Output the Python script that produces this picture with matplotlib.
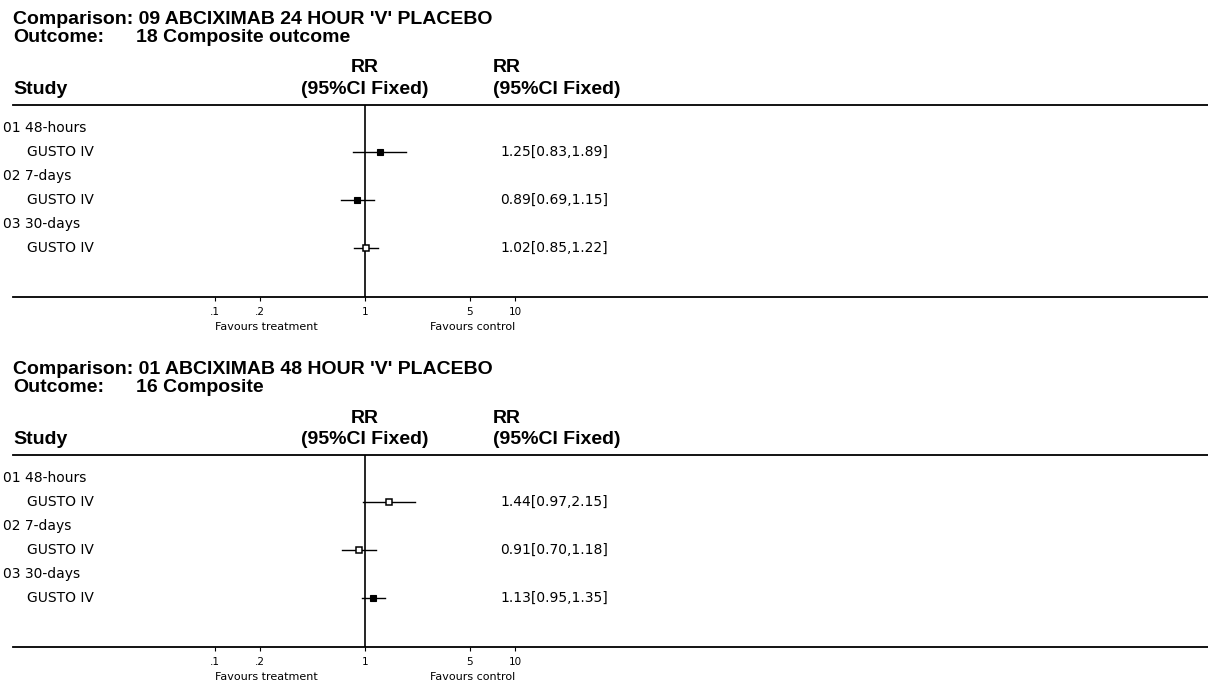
import matplotlib
matplotlib.use("Agg")
import matplotlib.pyplot as plt
from matplotlib.transforms import blended_transform_factory

# ---- data -------------------------------------------------------------
comparisons = ["Comparison: 09 ABCIXIMAB 24 HOUR 'V' PLACEBO",
               "Comparison: 01 ABCIXIMAB 48 HOUR 'V' PLACEBO"]
outcomes = ["18 Composite outcome", "16 Composite"]
subgroups = ["01 48-hours", "02 7-days", "03 30-days"]
study_name = "GUSTO IV"

rr_a = [1.25, 0.89, 1.02]
lo_a = [0.83, 0.69, 0.85]
hi_a = [1.89, 1.15, 1.22]

rr_b = [1.44, 0.91, 1.13]
lo_b = [0.97, 0.70, 0.95]
hi_b = [2.15, 1.18, 1.35]

filled_a = [True, True, False]
filled_b = [False, False, True]

tick_values = [0.1, 0.2, 1, 5, 10]
tick_labels = [".1", ".2", "1", "5", "10"]

# ---- layout (pixels) --------------------------------------------------
W, H, DPI = 1208, 684, 100
X_LEFT, X_RIGHT = 13, 1208
X_NULL, PX_PER_DECADE = 365, 150
PANEL_SHIFT = 350

HEAD_FONT = ["Liberation Sans", "DejaVu Sans"]
BODY_FONT = ["DejaVu Sans"]
HEAD_SIZE = 14
BODY_SIZE = 10

fig = plt.figure(figsize=(W / DPI, H / DPI), dpi=DPI)
fig.patch.set_facecolor("white")


def fy(y):
    return 1 - y / H


def head(x, y, s, **kw):
    kw.setdefault("ha", "left")
    fig.text(x, y, s, va="center", fontsize=HEAD_SIZE, fontweight="bold",
             family=HEAD_FONT, **kw)


def draw_panel(dy, comparison, outcome, rr, lo, hi, filled):
    top, bottom = 105 + dy, 297 + dy
    ax = fig.add_axes([X_LEFT / W, fy(bottom), (X_RIGHT - X_LEFT) / W,
                       (bottom - top) / H])
    ax.set_xscale("log")
    ax.set_xlim(10 ** ((X_LEFT - X_NULL) / PX_PER_DECADE),
                10 ** ((X_RIGHT - X_NULL) / PX_PER_DECADE))
    # rows: subgroup header, study line, ... spaced 24 px, first at 128
    first_row, row_h = 128 + dy, 24
    ax.set_ylim((bottom - first_row) / row_h, (top - first_row) / row_h)
    for side in ("left", "right"):
        ax.spines[side].set_visible(False)
    for side in ("top", "bottom"):
        ax.spines[side].set_linewidth(1.3)
    ax.set_yticks([])
    ax.set_xticks(tick_values)
    ax.set_xticklabels(tick_labels)
    ax.minorticks_off()
    ax.tick_params(axis="x", direction="out", length=3, width=0.8, pad=4,
                   labelsize=7.5)
    for lab in ax.get_xticklabels():
        lab.set_family(BODY_FONT)

    ax.axvline(1, color="black", lw=1.2, zorder=1)

    tx_fig = blended_transform_factory(fig.transFigure, ax.transData)
    for i, (label, r, l, h, f) in enumerate(zip(subgroups, rr, lo, hi, filled)):
        yg, ys = 2 * i, 2 * i + 1
        ax.text(3 / W, yg, label, transform=tx_fig, va="center", ha="left",
                fontsize=BODY_SIZE, family=BODY_FONT)
        ax.text(27 / W, ys, study_name, transform=tx_fig, va="center",
                ha="left", fontsize=BODY_SIZE, family=BODY_FONT)
        ax.plot([l, h], [ys, ys], color="black", lw=1.0, zorder=2)
        if f:
            ax.plot([r], [ys], marker="s", ms=4.8, mfc="black", mec="black",
                    mew=0.8, zorder=3)
        else:
            ax.plot([r], [ys], marker="s", ms=4.2, mfc="white", mec="black",
                    mew=1.1, zorder=3)
        ax.text(500 / W, ys, f"{r:.2f}[{l:.2f},{h:.2f}]", transform=tx_fig,
                va="center", ha="left", fontsize=BODY_SIZE, family=BODY_FONT)

    # headings
    head(13 / W, fy(19 + dy), comparison)
    head(13 / W, fy(37 + dy), "Outcome:")
    head(136 / W, fy(37 + dy), outcome)
    head(13 / W, fy(90 + dy), "Study")
    hx = blended_transform_factory(ax.transData, fig.transFigure)
    head(1, fy(68 + dy), "RR", transform=hx, ha="center")
    head(1, fy(90 + dy), "(95%CI Fixed)", transform=hx, ha="center")
    head(493 / W, fy(68 + dy), "RR")
    head(493 / W, fy(90 + dy), "(95%CI Fixed)")

    # favours labels under the axis
    ax.text(tick_values[0], fy(327 + dy), "Favours treatment", transform=hx,
            ha="left", va="center", fontsize=8, family=BODY_FONT)
    ax.text(tick_values[-1], fy(327 + dy), "Favours control", transform=hx,
            ha="right", va="center", fontsize=8, family=BODY_FONT)


draw_panel(0, comparisons[0], outcomes[0], rr_a, lo_a, hi_a, filled_a)
draw_panel(PANEL_SHIFT, comparisons[1], outcomes[1], rr_b, lo_b, hi_b, filled_b)

fig.savefig("out.png", dpi=DPI, facecolor="white")
